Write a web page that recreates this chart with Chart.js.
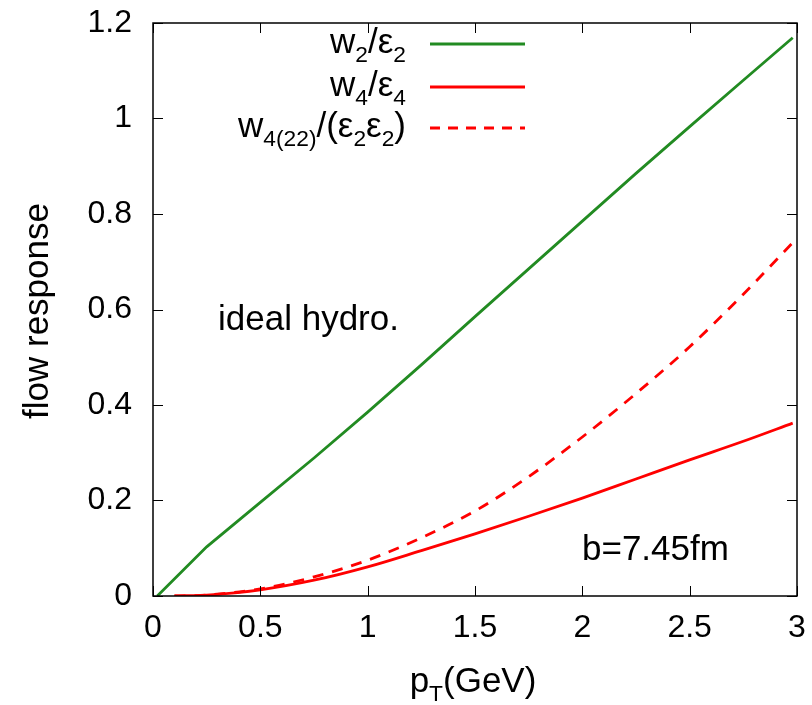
<!doctype html>
<html lang="en">
  <head>
    <meta charset="utf-8">
    <style>
      * { margin: 0; padding: 0; }
      body { background: #fff; }
      .chartBox { width: 812px; height: 705px; }
    </style>
  </head>
  <body>
    <div class="chartBox">
      <canvas id="myChart"></canvas>
    </div>

    <script src="https://cdn.jsdelivr.net/npm/chart.js/dist/chart.umd.min.js"></script>
    <script>
// data
const ptW2 = [0.02, 0.25, 0.5, 0.75, 1, 1.25, 1.5, 1.75, 2, 2.25, 2.5, 2.75, 2.98];
const w2e2 = [0, 0.103, 0.196, 0.289, 0.385, 0.484, 0.585, 0.685, 0.785, 0.885, 0.983, 1.08, 1.169];

const ptW4 = [0.1, 0.25, 0.5, 0.75, 1, 1.25, 1.5, 1.75, 2, 2.25, 2.5, 2.75, 2.98];
const w4e4 = [0, 0.002, 0.013, 0.033, 0.061, 0.095, 0.13, 0.167, 0.205, 0.245, 0.285, 0.324, 0.362];
const w422 = [0, 0.002, 0.015, 0.04, 0.075, 0.122, 0.178, 0.25, 0.333, 0.424, 0.522, 0.632, 0.74];

const xTicks = [0, 0.5, 1, 1.5, 2, 2.5, 3];
const yTicks = [0, 0.2, 0.4, 0.6, 0.8, 1, 1.2];

const green = '#228b22';
const red = '#ff0000';
const FONT = '"Liberation Sans", Arial, sans-serif';
const SUB = 0.65;

const pairs = (xs, ys) => xs.map((x, i) => ({x: x, y: ys[i]}));

// draw text with subscripts, pieces = [[text, isSub], ...]
function richWidth(ctx, pieces, size) {
  let w = 0;
  pieces.forEach(([t, sub]) => {
    ctx.font = (sub ? size * SUB : size) + 'px ' + FONT;
    w += ctx.measureText(t).width;
  });
  return w;
}
function drawRich(ctx, pieces, x, y, size, align) {
  let w = richWidth(ctx, pieces, size);
  let cx = align === 'right' ? x - w : (align === 'center' ? x - w / 2 : x);
  ctx.textAlign = 'left';
  ctx.textBaseline = 'alphabetic';
  pieces.forEach(([t, sub]) => {
    ctx.font = (sub ? size * SUB : size) + 'px ' + FONT;
    ctx.fillText(t, cx, sub ? y + size * 0.26 : y);
    cx += ctx.measureText(t).width;
  });
}

// frame + inward ticks (gnuplot style)
const frame = {
  id: 'frame',
  afterDatasetsDraw(chart) {
    const {ctx, chartArea: {top, bottom, left, right}, scales: {x, y}} = chart;
    ctx.save();
    ctx.strokeStyle = '#000';
    ctx.lineWidth = 1.5;
    ctx.strokeRect(left, top, right - left, bottom - top);
    ctx.lineWidth = 1;
    xTicks.forEach(v => {
      const px = Math.round(x.getPixelForValue(v)) + 0.5;
      ctx.beginPath();
      ctx.moveTo(px, bottom); ctx.lineTo(px, bottom - 10);
      ctx.moveTo(px, top); ctx.lineTo(px, top + 10);
      ctx.stroke();
    });
    yTicks.forEach(v => {
      const py = Math.round(y.getPixelForValue(v)) + 0.5;
      ctx.beginPath();
      ctx.moveTo(left, py); ctx.lineTo(left + 10, py);
      ctx.moveTo(right, py); ctx.lineTo(right - 10, py);
      ctx.stroke();
    });
    ctx.restore();
  }
};

// legend, labels and axis titles
const texts = {
  id: 'texts',
  afterDraw(chart) {
    const {ctx} = chart;
    ctx.save();
    ctx.fillStyle = '#000';

    const rows = [
      {y: 44, color: green, dash: [], pieces: [['w', 0], ['2', 1], ['/\u03b5', 0], ['2', 1]]},
      {y: 87, color: red, dash: [], pieces: [['w', 0], ['4', 1], ['/\u03b5', 0], ['4', 1]]},
      {y: 128, color: red, dash: [10, 8], pieces: [['w', 0], ['4(22)', 1], ['/(\u03b5', 0], ['2', 1], ['\u03b5', 0], ['2', 1], [')', 0]]}
    ];
    rows.forEach(r => {
      ctx.fillStyle = '#000';
      drawRich(ctx, r.pieces, 406, r.y + 9, 35, 'right');
      ctx.strokeStyle = r.color;
      ctx.lineWidth = 3;
      ctx.setLineDash(r.dash);
      ctx.beginPath();
      ctx.moveTo(430, r.y); ctx.lineTo(525, r.y);
      ctx.stroke();
      ctx.setLineDash([]);
    });

    ctx.fillStyle = '#000';
    ctx.font = '35px ' + FONT;
    ctx.textAlign = 'left';
    ctx.textBaseline = 'alphabetic';
    ctx.fillText('ideal hydro.', 218, 330);
    ctx.fillText('b=7.45fm', 582, 560);

    drawRich(ctx, [['p', 0], ['T', 1], ['(GeV)', 0]], 473, 692, 35, 'center');

    ctx.translate(48, 311);
    ctx.rotate(-Math.PI / 2);
    ctx.font = '35px ' + FONT;
    ctx.textAlign = 'center';
    ctx.fillText('flow response', 0, 0);
    ctx.restore();
  }
};

const data = {
  datasets: [
    {label: 'w2/e2', data: pairs(ptW2, w2e2), borderColor: green, borderWidth: 2.8,
     tension: 0, cubicInterpolationMode: 'default'},
    {label: 'w4/e4', data: pairs(ptW4, w4e4), borderColor: red, borderWidth: 2.8},
    {label: 'w4(22)/(e2e2)', data: pairs(ptW4, w422), borderColor: red, borderWidth: 2.8, borderDash: [11, 9]}
  ]
};

const config = {
  type: 'line',
  data,
  options: {
    responsive: false,
    animation: false,
    layout: { padding: { left: 0, top: 23, right: 15, bottom: 0 } },
    elements: { point: { radius: 0 }, line: { cubicInterpolationMode: 'monotone', fill: false } },
    scales: {
      x: {
        type: 'linear',
        min: 0, max: 3,
        afterFit(scale) { scale.height = 109; scale.paddingLeft = 0; scale.paddingRight = 0; },
        afterBuildTicks(scale) { scale.ticks = xTicks.map(v => ({value: v})); },
        grid: { display: false, drawTicks: false },
        border: { display: false },
        ticks: { padding: 13, color: '#000', font: { family: FONT, size: 32 }, maxRotation: 0,
                 callback: v => String(v) }
      },
      y: {
        type: 'linear',
        min: 0, max: 1.2,
        afterFit(scale) { scale.width = 153; scale.paddingTop = 0; scale.paddingBottom = 0; },
        afterBuildTicks(scale) { scale.ticks = yTicks.map(v => ({value: v})); },
        grid: { display: false, drawTicks: false },
        border: { display: false },
        ticks: { padding: 21, color: '#000', font: { family: FONT, size: 32 },
                 callback: v => String(v) }
      }
    },
    plugins: { legend: { display: false }, tooltip: { enabled: false } }
  },
  plugins: [frame, texts]
};

const canvas = document.getElementById('myChart');
canvas.width = 812;
canvas.height = 705;
const myChart = new Chart(canvas, config);
    </script>
  </body>
</html>
